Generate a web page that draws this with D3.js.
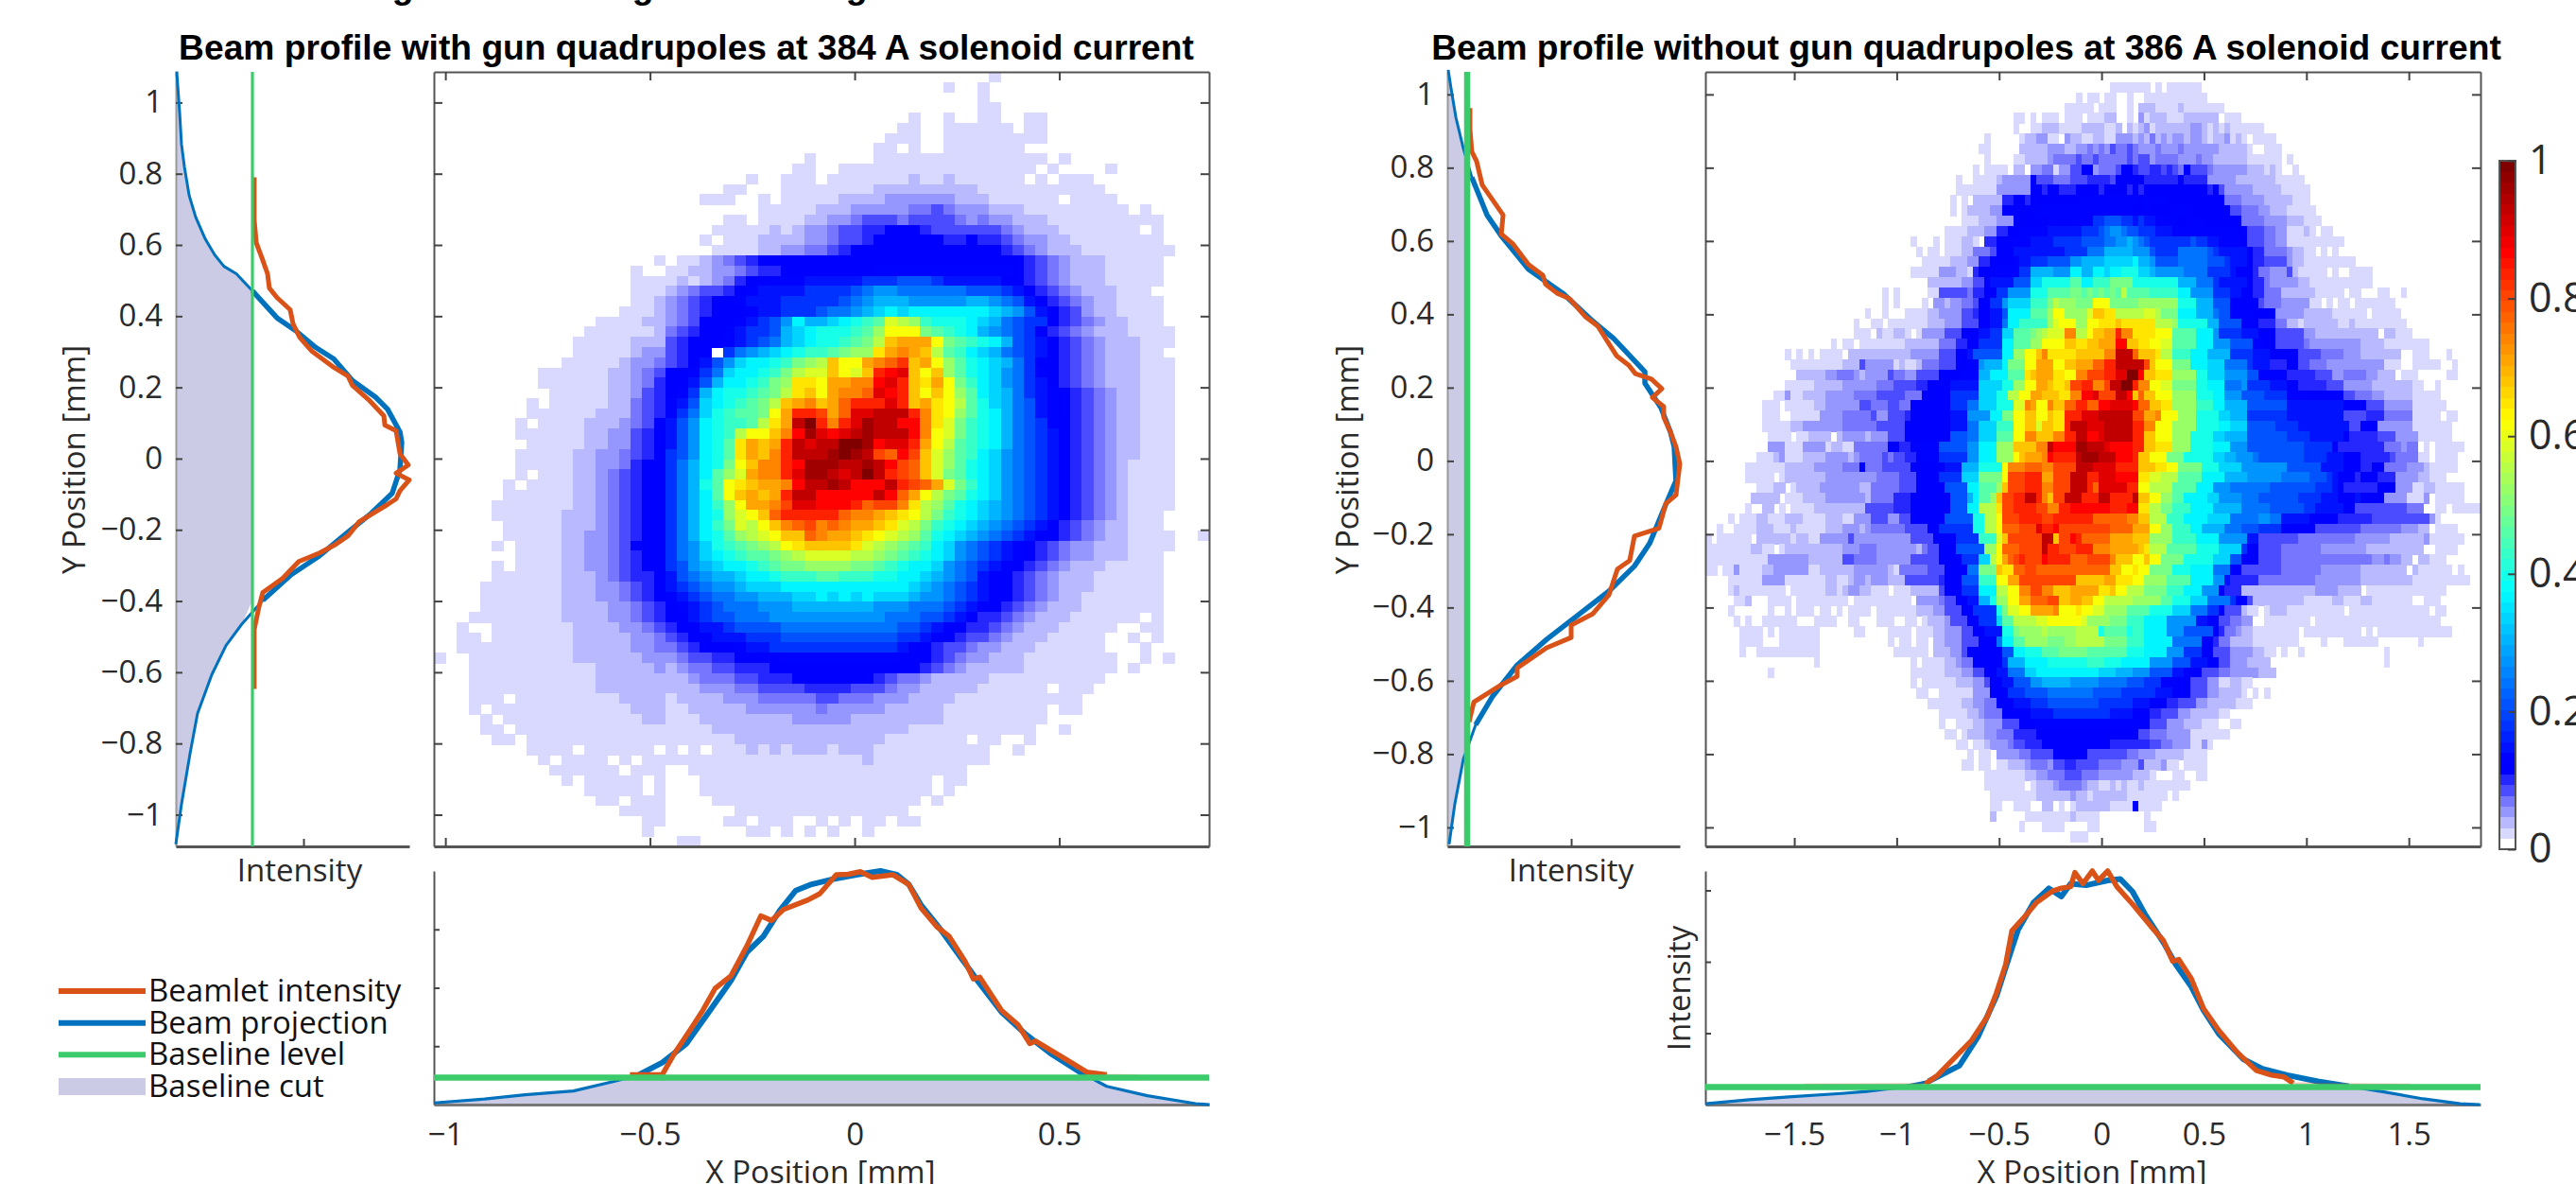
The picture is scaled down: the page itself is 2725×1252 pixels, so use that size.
<!DOCTYPE html>
<html><head><meta charset="utf-8">
<script src="https://cdnjs.cloudflare.com/ajax/libs/d3/7.8.5/d3.min.js"></script>
<style>html,body{margin:0;background:#fff;overflow:hidden}svg{display:block}text{font-family:"Open Sans";fill:#2a2a2a}</style>
</head><body><div id="c"></div>
<script>
const titles=["Beam profile with gun quadrupoles at 384 A solenoid current","Beam profile without gun quadrupoles at 386 A solenoid current"];
const legendLabels=["Beamlet intensity","Beam projection","Baseline level","Baseline cut"];
const yTicksL=[-1,-0.8,-0.6,-0.4,-0.2,0,0.2,0.4,0.6,0.8,1];
const xTicksL=[-1,-0.5,0,0.5];
const xTicksR=[-1.5,-1,-0.5,0,0.5,1,1.5];
const cbTicks=[0,0.2,0.4,0.6,0.8,1];
const intensityTicks=[0.25,0.5,0.75];

// left side profile (Y mm / intensity)
const lvBlueMm=[1.087,.970,.883,.819,.739,.678,.617,.572,.540,.519,.471,.395,.359,.314,.280,.219,.173,.139,.075,.046,-.031,-.097,-.153,-.209,-.273,-.326,-.398,-.464,-.525,-.607,-.716,-.828,-.971,-1.083];
const lvBlueI=[.004,.017,.025,.038,.059,.088,.130,.172,.213,.268,.339,.448,.531,.615,.699,.782,.883,.937,.992,1,.992,.958,.866,.757,.636,.510,.385,.293,.222,.159,.096,.063,.025,0];
const lvOrangeMm=[.790,.670,.606,.564,.519,.479,.452,.418,.378,.341,.301,.258,.232,.205,.165,.120,.094,.078,.014,-.018,-.041,-.060,-.090,-.113,-.129,-.177,-.217,-.241,-.265,-.289,-.336,-.376,-.416,-.480,-.647];
const lvOrangeI=[.347,.347,.356,.381,.406,.414,.448,.506,.519,.548,.603,.695,.762,.782,.854,.921,.925,.975,.992,1.029,.975,1.033,.992,.975,.937,.812,.762,.707,.636,.544,.473,.385,.368,.347,.347];
const lvBase=.339;
// right side profile
const rvBlueMm=[1.067,1.015,.937,.852,.774,.671,.614,.523,.458,.386,.334,.243,.212,.145,.080,.039,-.054,-.132,-.225,-.287,-.355,-.425,-.487,-.557,-.642,-.720,-.813,-.937,-1.046];
const rvBlueI=[.004,.017,.038,.071,.108,.175,.238,.358,.508,.633,.733,.871,.871,.942,.983,1,1.008,.954,.892,.825,.713,.567,.438,.308,.200,.125,.071,.033,.008];
const rvOrangeMm=[.963,.904,.844,.818,.753,.671,.619,.593,.536,.507,.482,.458,.443,.394,.368,.287,.261,.238,.223,.197,.173,.148,.119,.080,.039,-.008,-.093,-.117,-.184,-.205,-.272,-.295,-.365,-.417,-.448,-.482,-.510,-.565,-.588,-.611,-.658,-.712];
const rvOrangeI=[.100,.100,.108,.129,.154,.246,.238,.288,.358,.421,.433,.483,.538,.608,.663,.746,.800,.829,.900,.946,.904,.954,.954,.983,1.008,1.025,1.008,.963,.933,.825,.804,.750,.713,.642,.546,.546,.438,.308,.308,.238,.117,.096];
const rvBase=.0875;
// left bottom profile (X mm / intensity)
const lhBlueMm=[-1.028,-.904,-.805,-.687,-.588,-.529,-.470,-.411,-.351,-.302,-.263,-.223,-.184,-.144,-.105,-.055,.004,.063,.103,.132,.162,.211,.261,.300,.359,.418,.478,.557,.616,.715,.833,.867];
const lhBlueI=[.007,.024,.042,.058,.099,.126,.180,.261,.409,.531,.653,.720,.828,.916,.943,.964,.984,1,.984,.943,.855,.747,.626,.531,.396,.301,.220,.132,.078,.038,.004,0];
const lhOrangeMm=[-.549,-.470,-.440,-.401,-.371,-.341,-.302,-.263,-.229,-.203,-.174,-.114,-.085,-.045,-.016,.014,.043,.093,.132,.162,.201,.231,.270,.290,.306,.359,.399,.428,.442,.517,.567,.616,.695];
const lhOrangeI=[.128,.128,.220,.322,.403,.497,.551,.680,.808,.788,.835,.876,.903,.984,.986,.997,.973,.984,.943,.842,.761,.720,.612,.538,.545,.403,.342,.261,.272,.193,.139,.128,.124];
const lhBase=.115;
// right bottom profile
const rhBlueMm=[-1.932,-1.720,-1.509,-1.268,-1.147,-.996,-.845,-.694,-.604,-.513,-.453,-.407,-.332,-.257,-.196,-.151,-.075,.030,.091,.151,.211,.302,.362,.438,.498,.573,.694,.785,.906,1.056,1.207,1.358,1.570,1.751,1.847];
const rhBlueI=[.003,.017,.028,.039,.046,.059,.081,.136,.236,.380,.513,.613,.707,.757,.729,.773,.768,.785,.790,.746,.668,.568,.491,.413,.330,.247,.158,.125,.103,.081,.064,.047,.020,.003,0];
const rhOrangeMm=[-1.449,-.906,-.860,-.800,-.694,-.634,-.558,-.513,-.468,-.438,-.362,-.317,-.241,-.196,-.151,-.130,-.091,-.045,-.015,.030,.075,.151,.241,.302,.347,.377,.438,.498,.573,.664,.755,.830,.890,.936,1.147,1.509];
const rhOrangeI=[.070,.072,.072,.103,.181,.225,.308,.391,.491,.608,.669,.708,.747,.758,.763,.813,.774,.818,.785,.818,.763,.702,.624,.574,.502,.508,.441,.336,.259,.181,.120,.103,.097,.075,.072,.070];
const rhBase=.061;

// Heat map cells: one row of colormap indices per string, "_" = ten zero cells
const alphabet="0123456789abcdefghijklmnopqrstuvwxyzABCDEFGHIJKLMNOPQRSTUVWXYZ+=";
const heatLeft=[
"_ _ _ _ 0000000010","_ _ _ _ 0000100100","_ _ _ _ 0000000100","_ _ _ _ 0000000110",
"_ _ _ _ 0100100110 0110","_ _ _ _ 1100111111 0110","_ _ _ 0000000001 1100111111 1110","_ _ _ 0000000011 0100111111 1",
"_ _ _ 0010000011 1111111111 1110100","_ _ _ 0110011111 1111111111 1101000010","_ _ 0000000100 1110111111 1211211111 1010111",
"_ _ 0000011000 1111111122 2222222111 1111111100","_ _ 0001110010 1111122223 3333322211 1111011110",
"_ _ 0000000011 1112223333 3445433322 2111111111 01","_ _ 0000011011 1122334555 4555543433 2221111111 111",
"_ _ 0000111112 1233455667 7765555554 3222111111 101","_ _ 0001011122 2233455677 7777667665 4332211111 111",
"_ _ 0000111122 3344567777 7777777776 5432221111 1111","_ 0000000001 0112345677 7777777777 7777777777 7654322211 111",
"_ 0000000100 1122334566 7777777788 8888888888 7654322211 111",
"_ 0000000111 1212346778 8899999bbb dddb999997 7654322211 111",
"_ 0000000111 2345567899 99bbbbdfhh ffffffdddb 9765432221 11",
"_ 0000000112 3456778999 bbbbbdfhjj jhhhhhjjhf d976543221 111",
"_ 0000001112 3456777899 bbbdffhjln lnnnnnnnlj hd97653221 111",
"_ 0000111122 34577789bd hnjjlnprtB zxrpppnljf dbb7654322 111",
"_ 0001111112 4567789bbd jlnppprtxD DDvtrpnjhf db76543222 1111",
"_ 0011111222 5677789bdf jlnpprtvzH JJJDvtrpnj db97654322 2111",
"_ 0011111233 56770bfhjl nprrtvxxFJ LJHztrnljf db97654322 211",
"_ 0111112334 5679dhlnnp rvxzHDDJLN QHJDxtpnlj fb77654322 2111",
"0000000001 1111122345 778bflnnpr vzBBHDBHRT VHDHxtpnlh fb87654322 2111",
"0000000001 1111122346 779djnnprv xFFDJJLLTV RHFJDvrnlh fb97654322 2111",
"_ 1111122356 78bjnpprtv zFHDJLLNVT RHDHDxtnlj fb98765432 2111",
"0000000010 1111122456 89dlnprtvz HJLHJNRRRV RHJFDztplj fd98765432 2111",
"0000000011 1111222456 8bflprttvD JRRPJNVVXX XRLFDxtpnj fd98765432 2111",
"0000000101 1112223457 9dhnprrtzF JX=RLRVZXX TTLFBvrpnj fdb8765432 2111",
"0000000111 1112233567 9dhnprzDDH LTZVTVXZXX XTLDBvrpnj fdb9765432 2111",
"0000000011 1112233567 9dhnptFJHJ RXVXX==ZTV VRJDztrpnj fdb9765432 2111",
"0000000111 1122334567 bdhnptFJHL RXXXZ=ZXPN TPHBxtrnlh fdb9765432 2111",
"0000000111 1122334677 bfjnpvDHLL RTZZZXXZXT PNHBxtpnlh fdb9765432 1111",
"0000000101 1122345677 bfjntxBJLL RVZZXVX=XR PNHBvtpnlh fdb9765432 1111",
"0000001011 1122345677 bfjptDFHJJ LTXXZXTTTX RPNJBvrnlh fdb9765432 1111",
"0000001111 1122345677 bfjntDHJHJ RXXTTTTTXT NJDzvtpnlh fdb9765432 1111",
"0000011111 1122345677 bfjnrxDJJL PVVTTTRNPP LFzxtpnljh fdb9765432 1111",
"0000011111 1222345677 bfjnpxBDHN RRRRRNLLJH FDzvrpnljh fdb9765432 1110",
"0000001111 1222345677 bfjnrvBzDH LNPLNLJJHF Bzvrpnljhf db97654322 1110",
"0000001111 1223345677 bfjnptxzBD HHNLJJHFDB zxtpnljhfd b977654322 1111001",
"0000010111 1223345777 bfhlprtvxz DFHHHHFBzx vtrnlhfdb9 8765433222 1111",
"0000000111 1223345677 bfhlnprttv xzBBBBzzxv trpnlhfdb9 8765433222 111",
"0000010111 1223345677 bdhjlnnprt vvxxxxvvtr pnnlhfdb97 7654322211 111",
"0000011111 1222345667 9dfhjjlnnp rrrttrrrpp nnljhfd977 6543222111 111",
"0000111111 1222334567 9bdfhhjlll nnnnnnnnnn nljhfdb977 6543222111 111",
"0000111111 1222334567 89bdffhhjj jllnlnlnll ljhhfdb977 6543221111 111",
"0000111111 1222233456 789bdfffhh hjjjjjjjhh hfffdb9776 5432221111 111",
"0001111111 1222233456 779bddfffh hhhhhhhhhf ffddb97665 4322211111 101",
"0010011111 1122223345 67799bdddd ffffffffff ddb9776654 3222111110 011",
"0011011111 1122222334 5677999bbb dddddddddd bb97765543 2221111100 101",
"0011111111 1122222334 456777899b bbbbbbbbbb 9776554332 2211111100 01",
"1001111111 1122222233 3455667777 8888888888 7776543322 2111111110 0101",
"0001111111 1111222223 2344556667 7777777777 7765432222 2111111110 1",
"0001111111 1111222222 2234445566 6777777765 4432222211 1111111100",
"0001111111 1111222222 2223334455 5566665554 3322222111 1110111",
"0001110111 1111112222 1222233344 4445544433 3222211111 111111",
"0001011111 1111111222 1122222333 3334333332 2222111111 1110110",
"0000101111 1111111122 1112222222 2333332222 2222111111 111",
"0000110111 1111111111 1111222222 2222222222 2111111111 1100100",
"0000011011 1111111111 1111112222 2222222221 1111110110 01",
"0000000011 1101111110 1010111212 1222122211 1111111100 1",
"0000000001 0111101011 1111111111 1111111211 1111111100",
"_ 1111110111 0011111111 1111111111 1111110000","_ 0101111101 0001111111 1111111111 1110110",
"_ 0001111101 0001111111 1111111111 1110100","_ 0000110111 0000111111 1111111111 1101000",
"_ 0000001111 0000001111 1111111111 1","_ 0000000011 0000011011 1001010110 11",
"_ 0000000010 0000000110 1010100100","_ _ 0110"];
const heatRight=[
"",
"_ _ _ _ _ _ _ 0111111101 0111111",
"_ _ _ _ _ _ 0000010110 1100100111 1111111100",
"_ _ _ _ _ _ 0001111101 1100102221 1112111111 1",
"_ _ _ _ _ 0000110101 1101110111 2200103122 2111222222 0111",
"_ _ _ _ _ 0000100112 2211112222 1120212312 2222233212 1211111100",
"_ _ _ _ 0000000001 0000012233 1103221122 1133323242 3233233212 2312101111",
"_ _ _ _ 0000000011 0000022222 3332233434 3544543334 3334333333 2222210011 1",
"_ _ _ _ 0000000001 0000112222 3444454454 4444545534 4443334332 2222211111 101",
"_ _ _ _ 0000000101 1110220334 4133557734 4457765566 5654755543 3333322212 1001",
"_ _ _ _ 0000100111 1233333755 5444555666 6577777666 6667666633 3332222222 11111",
"_ _ _ _ 0000111111 1333333776 7766677776 7777676777 7777777767 5333332222 2111110",
"_ _ _ _ 0001010222 2266776777 7777778888 8888887878 8777777777 7444333322 222111",
"_ _ _ _ 0001012222 3377777888 8888888888 8888877877 7788877777 7755444332 2211111",
"_ _ _ _ 0000011122 2333777777 88888888bb dddbb9b998 8887788777 7777444433 3322211100",
"_ _ _ _ 0011112223 3667788888 999999bbbd fhhfddbbb9 9988888888 8887755544 3311121011",
"_ _ _ 0000001000 1011122106 6777888999 9bbbbbdddd ffhhjhfdbb bbbbbdbb99 8888755544 3311111111 11",
"_ _ _ 0000000101 1011122444 5777999999 999bbbbfff jjjjjhhhdb bbbfffffdb 9999976644 4432211010 1",
"_ _ _ 0000000011 1112223366 7777899bbb ddddhhjjjj lllllnjjhd dddfffffdd db99976655 5532211111 1111",
"_ _ _ 0000001111 1333221677 88888bbjjj jhhhnnjjnn lnnppplljh hhhhffffbb bb97776443 3352111110 1001111",
"_ _ _ 0000000002 2222233557 9999dddllp ppppttnnrr rvvvvppppp pppjjjfffb 9999976643 3333221111 1111111",
"_ _ _ 0101000001 1555554667 7bbhhhhppp ttttvvtvtv tvtzttttrr rrrnnhhhhb bb99776644 4222222111 1101100011 001",
"_ _ _ 0101000010 3323344577 bbhllllrrr vzxxxvvvDD Dvvvvvxxxx xxxpppjjjd dd77777544 4333331101 0110111111 1",
"_ _ 0000000010 0100011112 2333355677 99dnnnnttt xDDxxxxBHH FFzzzzzBBz vvvnnnjjjf dd88887777 3333322222 1111110111 11",
"_ _ 0000001001 1011111112 2233355577 99fnnrrrrr xBDDDxxDDF FFHFFFFFFz zzxpppppjj dddd777666 4422122222 2112111111 111",
"_ _ 0000001110 2112210133 3355577799 bblltttvxz BBBLLzzDHH JJRLLFFFFD DDttttnnnh bbbb999777 5555533222 2222222202 2111",
"_ _ 0010110111 1111122222 24446677bb bbnntttxxD DDDHHFFHHJ JJTTHHFFDD BBttttnnnh hhdddd8877 5555543333 3333322221 1111111",
"_ 0000101010 1111022222 2222223333 3555779ddd ddnnxxDDHL FFFFFHHHHH LLXXXNHHHF zzrrrnnnjj jjbbbb9997 7777555544 4433322222 2200111000 1",
"_ 0000011111 1111222533 3331211244 45557788hj jjnvvvDDJJ JDDHHJJJNN RRXXXXXPHD DDvvvnnnll lffffb9996 6677554443 3333333331 1100111110 01",
"_ 0000002222 2334443233 3354433555 57777888jj nnntttFHJJ JFFDDLLPPP RRVV==THHF FFxxxxppll lhhhhdd888 8866666555 3344443322 2011100000 11",
"_ 0000111112 2222333333 4445555667 77799999ll llppxxDDJJ HFFHPPRRLL PXX==RLLDD BBvvvvppnn nfffhbbbb9 9977666665 5533333222 2222110010",
"_ 0011311222 2333334444 5555544477 777bbbbbll lppzzDDJJH HHFFLLTTVP PPXXTHNHHD DDxxxxpppn nhhhddddbb bb88887777 8855444332 2222111110",
"_ 1110111112 2333333554 4455447777 777bbbffll lpppBBLJDD LHHNNRRNNT TVVVVTNNHH FFxxxxrrrn njjjjddddd dd99999999 9977775553 3333111111",
"_ 1110011111 3333444445 3355567777 777999hhhh nnvvDDHHDD HFFRRRVVVX XXXXXPPJJL DDDxxxpppp lljjjbbbbb bb99999999 9955556664 4444111110 11",
"_ 1111122333 3333444444 5555577777 777999ffll lrrrDDHHBH HFFRXXXVVV XXXXXRRLLD DDxxxxpppp nnlllddddd bbbb999999 9995577733 3333111111 1",
"_ 0111101122 2202333323 3355577777 777dddffll ltttDDLLHH HLLRRXXTTV XXXXXRRHHD DDxxxppppl ljjjjddddd ddbbbb9999 9976666655 5333311111 1",
"_ 0333111333 3122114444 4477668888 8dddddhhnn nxxxHHHHLL XTTTTZZXXX VTTTTRRHHF FFxxxppppn nnhhhddddd dddddbbbbb 7666666664 4434401011 111",
"0000000001 1123111222 2333323444 4545566788 8bbbbbhhnn nxxxDHJJJL TRRRRXZZZX XXTTTRHHDD Dvvvpppppl ljjhhhfddd dddddbbbb9 9977766666 5444411011 11",
"0000000111 1111222223 3333444744 4555557777 77999jjjpp ppDLLLNNNL LPPPPXXXVV VVRRRRHHHF FDDvvvvppp llllhhhhhh hhdddddd99 9977766774 4443332111 11",
"0000000111 1101222222 2333333333 4444555777 7bbbblllvv vvDPPPRRRJ JPPPXXXRRV VVTTTTFFBB zzzttttnnn njjjjhhhhh hfffffdddb 9777677766 6333322111",
"0000000001 1122012222 3333333224 4444555777 77ddddnntt txHPPPRRRL LPPPXXXRNV VVVVRRDDzz zzttttnnnh hhfffffffd dddddddbbb 9766666677 7333112211 111",
"0000000022 2220111222 2333333324 4446667777 777dddjntt xHPPRRXXRL HPPXXXRRRX XRRRRXHHDD xxttnnnnll hhhhfffddd ddddbbbb99 9777977773 3331113011 111",
"0000000100 2201011112 2222222255 5556667777 777dddnnzz zFPPRRRRPP LLRRTTTTTT TRRRTTFFzz vvrrrnnnnj jjjjfffffd dddddbb999 9977555555 5554440011 011111",
"0000101112 2111222111 1222113335 5533557777 77dddddppz zDPPPRRRRP PRRRRRRRNN NNNNLLHHzz zrrrnnnnll llfffffhhf f999997777 7666666555 5555555310",
"0010011112 2211121111 1222333234 4444455557 7bbbbbbppz zDNNNPPPVR RTPPPPPPPP PNNNNJJJDD xxrrrnnjjj jfffdddbbb b777777555 5555544444 4433322011 11",
"1011111102 2222212211 3333353333 3333335555 7788bbbbrr rBHPPPPPPX XHPPTRNNNN NJJJJHHHxx xxrrrrnnnn hhhhh99555 5555444444 4444333333 2222223111 111",
"1111111122 1101222222 2222333444 3333333245 5777dddddx xDNNNPPPPX RRPPPRRRLL LJJJJJHFzz ztttttpppp llllb77555 5444444433 3333332222 2222220011 11",
"1111111111 1333333322 2222554444 3333335555 57777bbbll zDJNPRPPPT RRRRNNNPPP PLHHHDDHDD vvvvpppppl lldd777555 5444444444 4444444334 3322022111",
"1101131111 2233333311 2222223333 3321444445 557777ffvv vHFFNNPPNN NNNNNNNNNN NHHDDFDDvv vvpppnnnnf ff77555555 5444444433 3333322222 2220211111 101",
"0000111111 3333111111 1221123323 3322255555 56777dddrr rDDJJPPPPP PPPPPHHHHH JJFFFDDxxx xttttnnnnh h966666444 4444444333 3333322222 2222111111 11110",
"0000121111 1111011111 1221233221 1101112222 25777bbbnn nzzDDLLPPL LHHHJJJJJF FHDDzzzvvv vrrrnnnhhh 7666222222 2222222333 3222201111 1111111111",
"0000011200 0111101111 1111101111 1111110333 34557799jj pxxDDJJNNN PPHHJJHHDD zzzzzxxxxx ttppplllff ffb7752222 2222211111 2211122111 1111001110",
"0000100000 0100101110 1101011110 1111111222 3355577bbb bpvBBDDJJJ JLDDDFDDBB xxxxttttpp pplllfffbb 7555211012 2211111111 1101111111 1111111011",
"0000010100 1111110001 1110011000 1110011012 22355577bb blttzzzzBB DDDDDDBxxx xvvvrrrnnn nhhhhh9977 5544330011 1111110111 1111111111 1111111110",
"0000001111 0101111111 0000001100 0011110111 2233355779 99ppvxxxxz xxxxxzzzzp ttttprrnnn nhhhddddd7 6443221111 1111011111 1111101011 1111111111 1",
"0000001111 0001111111 _ 0010110110 2233355577 7fnnttxxxx vvvxxzzzzz vvvvrrrnnn nnfffff776 4422221111 1111000010 0011111100 0000010000",
"0000001001 1111111111 _ 0001111110 2223357777 77ddnnpppt ttvvvvvttt ttttpppnnn nhhhbbb775 5533332211 0100100000 0000000001",
"_ 0000000001 _ 0000001011 1122344777 77bjjjnnnn ppppppprrr pppnnnnnhh hhddd99977 5533322220 _ 0000000001",
"_ 0100000000 _ 0000001111 1122233557 799fffllnn nnnnnnnnnl lljjjhhhdd dd99777555 4433333222",
"_ _ _ 0000001011 1111222335 7799dddhhj jjjjhhhhhf ffffdddbbb 7777755533 1122110000",
"_ _ _ 0000000110 0111111333 777bbbdddd ffffffffdd dddbbbbbb9 9977755533 2222101010",
"_ _ _ 0000000001 1111122334 4777999bbb dddddddddb bbbbb99977 7665553322 2221110000",
"_ _ _ _ 0111112234 4477777999 9bbbbbbbbb b999977766 5553322222 11",
"_ _ _ _ 0100111223 3355577788 8888888888 8888887755 5333222111 0011",
"_ _ _ _ 0011012223 3444666677 7777777777 7777775544 4333311111 11",
"_ _ _ _ 0000110112 3334556667 7777777777 7666666655 4433311310",
"_ _ _ _ 0000001011 0333344555 5777777555 5555443332 2222111100",
"_ _ _ _ 0000011011 0112223444 3556655554 4443335222 3110111100",
"_ _ _ _ 0000000001 1111112233 4445554443 3333322210 0011001100",
"_ _ _ _ 0000000001 1111110122 2344443221 1212112111 11111",
"_ _ _ _ _ 1111111122 2222322122 2222111111 101",
"_ _ _ _ _ 1100111002 2010122222 2111171111",
"_ _ _ _ _ 2000001111 1111211110 0000000100",
"_ _ _ _ _ 0000010001 1110000110 0000000110",
"_ _ _ _ _ _ 0000111",
""];

const W=2725,H=1252;
const FONT="Open Sans",FS=33;
const C={orange:"#D95319",blue:"#0072BD",green:"#3CCB6A",fill:"#CBCBE6",axis:"#555"};

function cmap(i){ // white-to-blue head, jet tail (64 entries)
  if(i<8){const head=[255,217,185,150,118,75,38,0];return `rgb(${head[i]},${head[i]},255)`;}
  const v=i/63,c=x=>Math.round(255*Math.max(0,Math.min(1,x)));
  return `rgb(${c(1.5-Math.abs(4*v-3))},${c(1.5-Math.abs(4*v-2))},${c(1.5-Math.abs(4*v-1))})`;
}
const parse=rows=>rows.map(r=>r.replace(/_/g,"0000000000").replace(/ /g,""));
const svg=d3.select("#c").append("svg").attr("width",W).attr("height",H);
const defs=svg.append("defs");
const minus=d=>String(d).replace("-","\u2212");

function heat(rows,cols,box,id,rowBottom){
  defs.append("clipPath").attr("id",id).append("rect").attr("x",box.x0).attr("y",box.y0).attr("width",box.x1-box.x0).attr("height",box.y1-box.y0);
  const x=d3.scaleBand().domain(d3.range(cols)).range([box.x0,box.x1]);
  const y=d3.scaleBand().domain(d3.range(rows.length)).range([box.y0,rowBottom]);
  const cells=[];
  parse(rows).forEach((s,r)=>{for(let c=0;c<Math.min(s.length,cols);c++){const k=alphabet.indexOf(s[c]);if(k>0)cells.push({r,c,k});}});
  svg.append("g").attr("clip-path",`url(#${id})`).attr("shape-rendering","crispEdges")
    .selectAll("rect").data(cells).join("rect")
    .attr("x",d=>x(d.c)).attr("y",d=>y(d.r)).attr("width",x.bandwidth()+.6).attr("height",y.bandwidth()+.6).attr("fill",d=>cmap(d.k));
}
function style(g,w){
  g.selectAll(".domain").attr("stroke",C.axis).attr("stroke-width",w||2);
  g.selectAll(".tick line").attr("stroke","#444").attr("stroke-width",2);
  g.selectAll("text").attr("font-size",FS).attr("font-family",FONT).attr("fill","#2a2a2a");
  return g;
}
function box(xS,yS,xT,yT){
  const [x0,x1]=xS.range(),[y1,y0]=yS.range();
  style(svg.append("g").attr("transform",`translate(0,${y1})`).call(d3.axisBottom(xS).tickValues(xT).tickSize(-9).tickSizeOuter(0).tickFormat("")),3);
  style(svg.append("g").attr("transform",`translate(0,${y0})`).call(d3.axisTop(xS).tickValues(xT).tickSize(-9).tickSizeOuter(0).tickFormat("")));
  style(svg.append("g").attr("transform",`translate(${x0},0)`).call(d3.axisLeft(yS).tickValues(yT).tickSize(-9).tickSizeOuter(0).tickFormat("")));
  style(svg.append("g").attr("transform",`translate(${x1},0)`).call(d3.axisRight(yS).tickValues(yT).tickSize(-9).tickSizeOuter(0).tickFormat("")));
}
const zip=(a,b)=>a.map((v,i)=>[v,b[i]]);
function path(d,gen,col,w,op){svg.append("path").datum(d).attr("d",gen).attr("fill","none").attr("stroke",col).attr("stroke-width",w).attr("stroke-linejoin","round").attr("opacity",op==null?1:op);}

function sideProfile(xS,yS,mmB,iB,mmO,iO,base,baseW,tick){
  const blue=zip(mmB,iB),orange=zip(mmO,iO);
  const [x0,x1]=xS.range(),[y1,y0]=yS.range();
  svg.append("path").datum(blue).attr("fill",C.fill)
    .attr("d",d3.area().y(d=>yS(d[0])).x0(xS(0)).x1(d=>xS(Math.min(d[1],base))));
  const g=style(svg.append("g").attr("transform",`translate(${x0},0)`).call(d3.axisLeft(yS).tickValues(yTicksL).tickSize(-7).tickSizeOuter(0).tickPadding(14).tickFormat(minus)),2);
  g.select(".domain").attr("stroke","#999");
  style(svg.append("g").attr("transform",`translate(0,${y1})`).call(d3.axisBottom(xS).tickValues([tick]).tickSize(-8).tickSizeOuter(0).tickFormat("")),3);
  const line=d3.line().x(d=>xS(d[1])).y(d=>yS(d[0]));
  path(blue,line,C.blue,3);
  path(blue.filter(d=>d[1]>=base),line,C.blue,5.5);
  path(orange,line,C.orange,5);
  svg.append("line").attr("x1",xS(base)).attr("x2",xS(base)).attr("y1",y0).attr("y2",y1).attr("stroke",C.green).attr("stroke-width",baseW);
}
function bottomProfile(xS,yS,mmB,iB,mmO,iO,base,xT,oMin,oMax){
  const blue=zip(mmB,iB),orange=zip(mmO,iO);
  const [x0,x1]=xS.range(),[y1,y0]=yS.range();
  svg.append("path").datum(blue).attr("fill",C.fill)
    .attr("d",d3.area().x(d=>xS(d[0])).y0(yS(0)).y1(d=>yS(Math.min(d[1],base))));
  const gx=style(svg.append("g").attr("transform",`translate(0,${y1})`).call(d3.axisBottom(xS).tickValues(xT).tickSize(0).tickSizeOuter(0).tickPadding(20).tickFormat(minus)),3);
  gx.select(".domain").attr("stroke","#777");
  style(svg.append("g").attr("transform",`translate(${x0},0)`).call(d3.axisLeft(yS).tickValues(intensityTicks).tickSize(-6).tickSizeOuter(0).tickFormat("")),2);
  const line=d3.line().x(d=>xS(d[0])).y(d=>yS(d[1]));
  path(blue,line,C.blue,3.2);
  path(blue.filter(d=>d[1]>=base),line,C.blue,6);
  path(orange,line,C.orange,2,.3);
  path(orange.filter(d=>d[0]>=oMin&&d[0]<=oMax),line,C.orange,5.5);
  svg.append("line").attr("x1",x0).attr("x2",x1).attr("y1",yS(base)).attr("y2",yS(base)).attr("stroke",C.green).attr("stroke-width",6.5);
}
function label(t,x,y,size,opts){
  const o=opts||{};
  const s=svg.append("text").attr("x",x).attr("y",y).attr("text-anchor",o.anchor||"middle").attr("font-size",size).text(t);
  if(o.rot)s.attr("transform",`rotate(-90 ${x} ${y})`);
  if(o.bold)s.style("font-family","'Liberation Sans'").style("font-weight","bold").style("fill","#000");
  return s;
}

// ---- left column
const lyS=d3.scaleLinear().domain([-1.089,1.086]).range([895,76]);
const lxS=d3.scaleLinear().domain([-1.028,.866]).range([459,1279]);
heat(heatLeft,67,{x0:459,x1:1279,y0:76,y1:895},"cl",895);
box(lxS,lyS,xTicksL,yTicksL);
sideProfile(d3.scaleLinear().domain([0,1.0335]).range([186,433]),lyS,lvBlueMm,lvBlueI,lvOrangeMm,lvOrangeI,lvBase,3.2,.565);
bottomProfile(lxS,d3.scaleLinear().domain([0,1]).range([1168,921]),lhBlueMm,lhBlueI,lhOrangeMm,lhOrangeI,lhBase,xTicksL,-.56,.63);

// ---- right column
const ryS=d3.scaleLinear().domain([-1.0518,1.0615]).range([895,76]);
const rxS=d3.scaleLinear().domain([-1.934,1.85]).range([1804,2624]);
heat(heatRight,136,{x0:1804,x1:2624,y0:76,y1:895},"cr",901);
box(rxS,ryS,xTicksR,yTicksL);
sideProfile(d3.scaleLinear().domain([0,1.025]).range([1531,1777]),ryS,rvBlueMm,rvBlueI,rvOrangeMm,rvOrangeI,rvBase,6.5,.546);
bottomProfile(rxS,d3.scaleLinear().domain([0,.818]).range([1168,921]),rhBlueMm,rhBlueI,rhOrangeMm,rhOrangeI,rhBase,xTicksR,-.87,.95);

// ---- colour bar
const cbS=d3.scaleLinear().domain([0,1]).range([898,170]);
svg.append("g").attr("shape-rendering","crispEdges").selectAll("rect").data(d3.range(64)).join("rect")
  .attr("x",2644).attr("width",17).attr("y",d=>cbS((d+1)/64)).attr("height",d=>cbS(d/64)-cbS((d+1)/64)+.5).attr("fill",d=>cmap(d));
svg.append("rect").attr("x",2644).attr("y",170).attr("width",17).attr("height",728).attr("fill","none").attr("stroke",C.axis).attr("stroke-width",2);
const cbG=svg.append("g").attr("transform","translate(2661,0)").call(d3.axisRight(cbS).tickValues(cbTicks).tickSize(-8).tickSizeOuter(0).tickPadding(14).tickFormat(d=>String(d)));
style(cbG);cbG.select(".domain").remove();cbG.selectAll("text").attr("font-size",43);

// ---- text
label(titles[0],726,63,37.2,{bold:true});
label(titles[1],2080,63,37.2,{bold:true});
[426,680,906].forEach(x=>label("g",x,-2.5,37.2,{bold:true}));
label("Y Position [mm]",90,486,FS,{rot:true});
label("Y Position [mm]",1437,486,FS,{rot:true});
label("Intensity",317,932,FS);
label("Intensity",1662,932,FS);
label("Intensity",1788,1045,FS,{rot:true});
label("X Position [mm]",868,1251,FS);
label("X Position [mm]",2213,1251,FS);

// ---- legend
const legY=d3.scalePoint().domain(legendLabels).range([1048,1149]);
legendLabels.forEach((t,i)=>{
  const y=legY(t);
  if(i<3)svg.append("line").attr("x1",62).attr("x2",154).attr("y1",y).attr("y2",y).attr("stroke",[C.orange,C.blue,C.green][i]).attr("stroke-width",6);
  else svg.append("rect").attr("x",62).attr("y",y-9).attr("width",92).attr("height",18).attr("fill",C.fill);
  label(t,157,y+11,FS,{anchor:"start"}).style("fill","#111");
});
</script></body></html>
